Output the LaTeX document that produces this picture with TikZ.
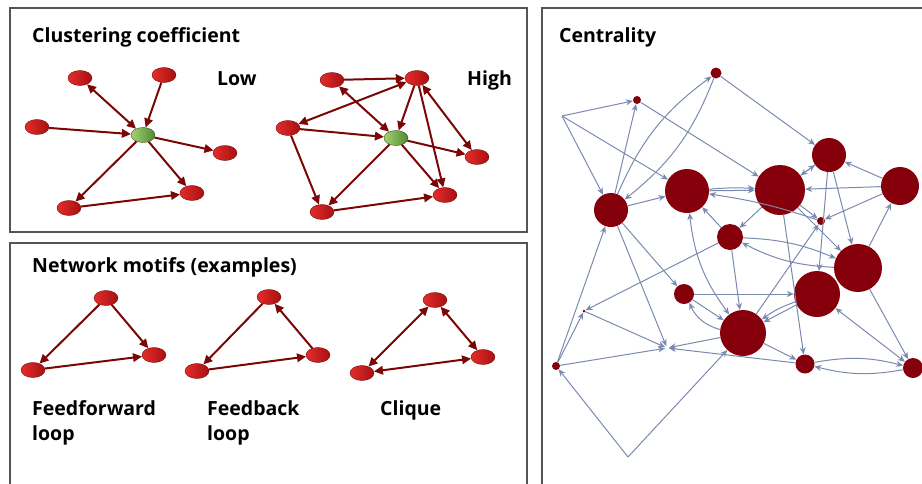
\documentclass[tikz,border=0pt]{standalone}
\usepackage{fontspec}
\setmainfont{Open Sans}
\usetikzlibrary{shapes.geometric, arrows.meta, positioning}
\definecolor{linkred}{RGB}{122,6,6}
\definecolor{nodered}{RGB}{228,44,44}
\definecolor{nodedark}{RGB}{168,16,16}
\definecolor{hublight}{RGB}{165,210,115}
\definecolor{hubdark}{RGB}{78,138,48}
\definecolor{central}{RGB}{133,0,10}
\definecolor{linkblue}{RGB}{122,138,175}
\definecolor{framegray}{RGB}{85,85,85}
\tikzset{
    panel/.style={draw=framegray, line width=1.6pt},
    heading/.style={font=\fontsize{19.5}{22}\selectfont\bfseries, anchor=base west, inner sep=0pt},
    caption/.style={font=\fontsize{19.5}{22}\selectfont\bfseries, text height=14pt, text depth=4pt, inner sep=0pt},
    vertex/.style={ellipse, draw=nodedark!70!black, line width=0.4pt, left color=nodered, right color=nodedark, minimum width=24pt, minimum height=15pt, inner sep=0pt},
    hub/.style={vertex, left color=hublight, right color=hubdark, draw=hubdark!60!black},
    link/.style={draw=linkred, line width=2pt, >={Triangle[length=9pt, width=8.5pt]}},
    actor/.style={circle, fill=central, inner sep=0pt, minimum size=#1},
    tie/.style={draw=linkblue, line width=1pt, >={Stealth[length=7pt, width=6pt]}, ->}
}
\begin{document}
\begin{tikzpicture}[x=1pt, y=-1pt]
    \useasboundingbox (0,0) rectangle (922,483);
    \draw[panel] (10,8) rectangle (527,232);
    \draw[panel] (10,243) rectangle (527,495);
    \draw[panel] (542,8) rectangle (935,495);

    \node[heading] (cctitle) at (32,42) {Clustering coefficient};
    \node[heading] (lowtxt) at (217,85) {Low};
    \node[heading] (hightxt) at (467,85) {High};
    \node[heading] (motiftitle) at (32,272) {Network motifs (examples)};
    \node[heading] (centtitle) at (559,42) {Centrality};

    % low clustering
    \node[vertex] (lo1) at (80,78) {};
    \node[vertex] (lo2) at (164,75) {};
    \node[vertex] (lo3) at (37,127) {};
    \node[hub] (locore) at (143,135) {};
    \node[vertex] (lo4) at (225,153) {};
    \node[vertex] (lo5) at (69,208) {};
    \node[vertex] (lo6) at (192,193) {};
    \draw[link, <->] (lo1) -- (locore);
    \draw[link, ->] (lo2) -- (locore);
    \draw[link, ->] (lo3) -- (locore);
    \draw[link, ->] (locore) -- (lo4);
    \draw[link, ->] (locore) -- (lo5);
    \draw[link, ->] (locore) -- (lo6);
    \draw[link, ->] (lo5) -- (lo6);

    % high clustering
    \node[vertex] (hi1) at (332,80) {};
    \node[vertex] (hi2) at (417,78) {};
    \node[vertex] (hi3) at (288,128) {};
    \node[hub] (hicore) at (396,138) {};
    \node[vertex] (hi4) at (477,157) {};
    \node[vertex] (hi5) at (322,212) {};
    \node[vertex] (hi6) at (445,195) {};
    \draw[link, ->] (hi1) -- (hi2);
    \draw[link, <->] (hi1) -- (hicore);
    \draw[link, <->] (hi3) -- (hi2);
    \draw[link, ->] (hi2) -- (hicore);
    \draw[link, ->] (hi2) -- (hi6);
    \draw[link, <->] (hi2) -- (hi4);
    \draw[link, ->] (hi3) -- (hicore);
    \draw[link, ->] (hicore) -- (hi4);
    \draw[link, ->] (hicore) -- (hi5);
    \draw[link, ->] (hicore) -- (hi6);
    \draw[link, ->] (hi3) -- (hi5);
    \draw[link, ->] (hi5) -- (hi6);

    % motifs
    \node[vertex] (ffa) at (106,298) {};
    \node[vertex] (ffb) at (33,370) {};
    \node[vertex] (ffc) at (154,355) {};
    \draw[link, ->] (ffa) -- (ffb);
    \draw[link, ->] (ffa) -- (ffc);
    \draw[link, ->] (ffb) -- (ffc);
    \node[vertex] (fba) at (269,297) {};
    \node[vertex] (fbb) at (197,371) {};
    \node[vertex] (fbc) at (318,355) {};
    \draw[link, ->] (fba) -- (fbb);
    \draw[link, ->] (fbb) -- (fbc);
    \draw[link, ->] (fbc) -- (fba);
    \node[vertex] (cqa) at (435,300) {};
    \node[vertex] (cqb) at (362,373) {};
    \node[vertex] (cqc) at (483,357) {};
    \draw[link, <->] (cqa) -- (cqb);
    \draw[link, <->] (cqa) -- (cqc);
    \draw[link, <->] (cqb) -- (cqc);

    \node[caption, anchor=base west] (fftxt) at (32,415) {Feedforward};
    \node[caption, below=7pt of fftxt.south west, anchor=north west] (ffloop) {loop};
    \node[caption, anchor=base west] (fbtxt) at (207,415) {Feedback};
    \node[caption, below=7pt of fbtxt.south west, anchor=north west] (fbloop) {loop};
    \node[caption, anchor=base west] (cqtxt) at (380,415) {Clique};

    % centrality
    \coordinate (src) at (562,116);
    \coordinate (sink) at (667,348);
    \coordinate (root) at (628,457);
    \node[actor=11pt] (v1) at (716,73) {};
    \node[actor=8pt] (v2) at (637,100) {};
    \node[actor=34pt] (v3) at (611,210) {};
    \node[actor=44pt] (v4) at (687,191) {};
    \node[actor=50pt] (v5) at (780,190) {};
    \node[actor=34pt] (v6) at (829,155) {};
    \node[actor=38pt] (v7) at (900,186) {};
    \node[actor=8pt] (v8) at (821,221) {};
    \node[actor=26pt] (v9) at (730,237) {};
    \node[actor=48pt] (v10) at (858,268) {};
    \node[actor=46pt] (v11) at (817,294) {};
    \node[actor=20pt] (v12) at (684,294) {};
    \node[actor=46pt] (v13) at (743,333) {};
    \node[actor=19pt] (v14) at (805,364) {};
    \node[actor=20pt] (v15) at (913,368) {};
    \node[actor=8pt] (v16) at (556,366) {};
    \node[actor=3pt] (v17) at (584,311) {};

    \draw[tie] (src) -- (v2);
    \draw[tie] (src) -- (v3);
    \draw[tie] (src) -- (v4);
    \draw[tie] (v2) -- (v5);
    \draw[tie] (v3) -- (v2);
    \draw[tie] (v3) to[bend left=15] (v1);
    \draw[tie] (v1) to[bend left=15] (v3);
    \draw[tie] (v1) -- (v6);
    \draw[tie] (v3) -- (v4);
    \draw[tie] (v3) -- (v12);
    \draw[tie, shorten >=2pt] (v3) -- (sink);
    \draw[tie] (v16) -- (v3);
    \draw[tie] (v16) -- (v17);
    \draw[tie, shorten >=2pt] (v17) -- (sink);
    \draw[tie, shorten >=2pt] (v16) -- (sink);
    \draw[tie] (root) -- (v16);
    \draw[tie] (root) -- (v13);
    \draw[tie] (v9) -- (v17);
    \draw[tie, shorten >=2pt] (v13) -- (sink);
    \draw[tie, shorten >=2pt] (v14) -- (sink);
    \draw[tie] (v12) -- (v11);
    \draw[tie] (v12) -- (v13);
    \draw[tie] (v13) to[bend left=25] (v12);
    \draw[tie] (v13) -- (v14);
    \draw[tie] (v13) -- (v8);
    \draw[tie] (v11) -- (v13);
    \draw[tie] (v11) to[bend right=8] (v13);
    \draw[tie, <->] (v11) -- (v15);
    \draw[tie] (v10) -- (v15);
    \draw[tie] (v14) to[bend left=12] (v15);
    \draw[tie] (v15) to[bend left=12] (v14);
    \draw[tie] (v5) -- (v14);
    \draw[tie] (v6) -- (v11);
    \draw[tie] (v6) -- (v10);
    \draw[tie] (v7) -- (v6);
    \draw[tie] (v7) -- (v5);
    \draw[tie] (v7) -- (v8);
    \draw[tie] (v5) -- (v6);
    \draw[tie] (v6) -- (v5);
    \draw[tie] (v5) -- (v8);
    \draw[tie] (v5) -- (v10);
    \draw[tie] (v9) to[bend left=10] (v10);
    \draw[tie] (v10) to[bend left=12] (v9);
    \draw[tie] (v9) -- (v13);
    \draw[tie, <->] (v4) to[bend right=15] (v13);
    \draw[tie] (v9) -- (v4);
    \draw[tie] (v8) to[bend right=5] (v4);
    \draw[tie] (v5) -- (v9);
    \draw[tie] (v4) -- (v5);
    \draw[tie] (v4) to[bend left=4] (v5);
    \draw[tie] (v10) -- (v7);
\end{tikzpicture}
\end{document}
